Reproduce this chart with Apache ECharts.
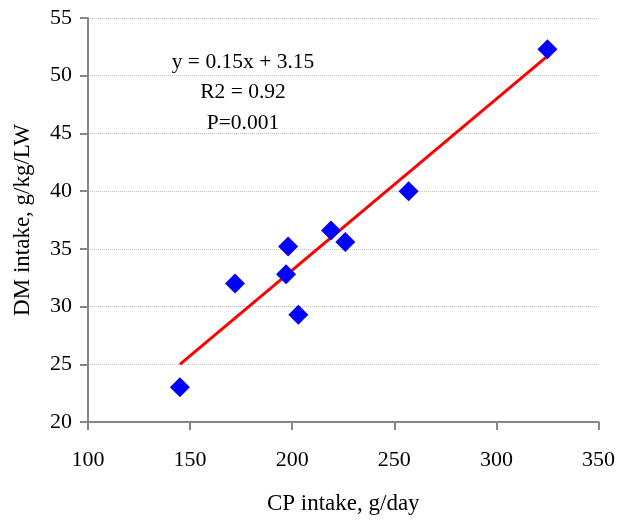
<!DOCTYPE html>
<html>
<head>
<meta charset="utf-8">
<script src="https://cdn.jsdelivr.net/npm/echarts@6/dist/echarts.min.js"></script>
<style>
  html, body { margin: 0; padding: 0; background: #fff; }
  #chart { width: 618px; height: 520px; }
</style>
</head>
<body>
<div id="chart"></div>
<script>
// CP intake (g/day) vs DM intake (g/kg/LW)
const cpIntake = [145, 172, 197, 198, 203, 219, 226, 257, 325];
const dmIntake = [23.0, 32.0, 32.8, 35.2, 29.3, 36.6, 35.6, 40.0, 52.3];

// fitted line end points
const fitX = [145, 325];
const fitY = [25.0, 51.7];

const equationLines = ['y = 0.15x + 3.15', 'R2 = 0.92', 'P=0.001'];

const FONT = '"Liberation Serif", "Times New Roman", serif';

const chart = echarts.init(document.getElementById('chart'), null, { renderer: 'canvas' });

chart.setOption({
  animation: false,
  backgroundColor: '#fff',
  grid: { left: 88, right: 16, top: 18, bottom: 96, containLabel: false },
  xAxis: {
    type: 'value',
    min: 100, max: 350, interval: 50,
    name: 'CP intake, g/day',
    nameLocation: 'middle',
    nameGap: 70,
    nameTextStyle: { fontFamily: FONT, fontSize: 23, color: '#000' },
    axisLine: { show: true, onZero: false, lineStyle: { color: '#868686', width: 2 } },
    axisTick: { show: true, length: 8, inside: false, lineStyle: { color: '#868686', width: 2 } },
    axisLabel: { fontFamily: FONT, fontSize: 22, color: '#000', margin: 27 },
    splitLine: { show: false }
  },
  yAxis: {
    type: 'value',
    min: 20, max: 55, interval: 5,
    name: 'DM intake, g/kg/LW',
    nameLocation: 'middle',
    nameGap: 54,
    nameTextStyle: { fontFamily: FONT, fontSize: 23, color: '#000' },
    axisLine: { show: true, onZero: false, lineStyle: { color: '#868686', width: 2 } },
    axisTick: { show: true, length: 8, lineStyle: { color: '#868686', width: 2 } },
    axisLabel: { fontFamily: FONT, fontSize: 22, color: '#000', margin: 16 },
    splitLine: { show: true, lineStyle: { color: '#c0c0c0', width: 1, type: 'dotted' } }
  },
  series: [
    {
      type: 'line',
      data: fitX.map((x, i) => [x, fitY[i]]),
      showSymbol: false,
      symbol: 'none',
      lineStyle: { color: '#ff0000', width: 3 },
      z: 2
    },
    {
      type: 'scatter',
      data: cpIntake.map((x, i) => [x, dmIntake[i]]),
      symbol: 'diamond',
      symbolSize: [20, 20],
      itemStyle: { color: '#0000ff', opacity: 1 },
      z: 3
    }
  ],
  graphic: equationLines.map((t, i) => ({
    type: 'text',
    x: 243,
    y: 62 + i * 30.5,
    style: {
      text: t,
      fontFamily: FONT,
      fontSize: 21.5,
      fill: '#000',
      align: 'center',
      verticalAlign: 'middle'
    }
  }))
});
</script>
</body>
</html>
